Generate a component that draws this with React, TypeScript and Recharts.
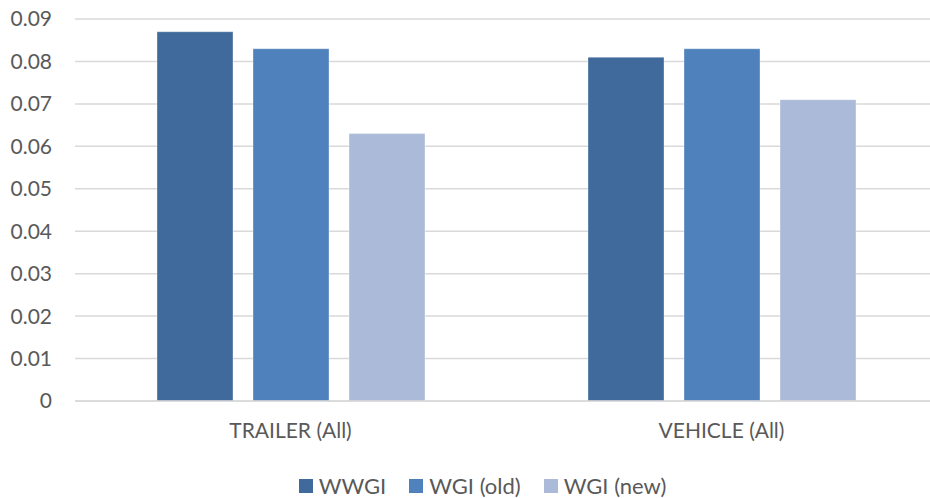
import React from 'react';
import { BarChart, Bar, XAxis, YAxis, CartesianGrid, Legend } from 'recharts';

const categories = ['TRAILER (All)', 'VEHICLE (All)'];
const wwgi = [0.087, 0.081];
const wgiOld = [0.083, 0.083];
const wgiNew = [0.063, 0.071];
const yTicks = [0, 0.01, 0.02, 0.03, 0.04, 0.05, 0.06, 0.07, 0.08, 0.09];

const series = [
  { key: 'wwgi', name: 'WWGI', color: '#3f6a9b' },
  { key: 'wgiOld', name: 'WGI (old)', color: '#4f81bd' },
  { key: 'wgiNew', name: 'WGI (new)', color: '#aabad8' },
];

const data = categories.map((name, i) => ({
  name,
  wwgi: wwgi[i],
  wgiOld: wgiOld[i],
  wgiNew: wgiNew[i],
}));

const FONT = 'Lato, "Noto Sans", sans-serif';
const TEXT = '#595959';

const formatTick = (v: number) => (v === 0 ? '0' : v.toFixed(2));

const renderLegend = () => (
  <div style={{ display: 'flex', justifyContent: 'center', alignItems: 'center', height: 24, paddingLeft: 28 }}>
    {series.map((s, i) => (
      <div key={s.key} style={{ display: 'flex', alignItems: 'center', marginLeft: i === 0 ? 0 : 23 }}>
        <span style={{ width: 14, height: 14, background: s.color, display: 'inline-block', marginRight: 6 }} />
        <span style={{ fontFamily: FONT, fontSize: 22, color: TEXT, lineHeight: '24px' }}>{s.name}</span>
      </div>
    ))}
  </div>
);

export default function App() {
  return (
    <div style={{ position: 'fixed', left: 0, top: 0, width: 930, height: 498, overflow: 'hidden', background: '#fff' }}>
      <BarChart
        width={945}
        height={498}
        data={data}
        margin={{ top: 19, right: 8, left: 0, bottom: 0 }}
        barSize={76}
        barGap={20}
      >
        <CartesianGrid vertical={false} stroke="#d9d9d9" strokeWidth={1.5} />
        <XAxis
          dataKey="name"
          height={73}
          tickLine={false}
          tickSize={0}
          tickMargin={22}
          axisLine={{ stroke: '#d9d9d9', strokeWidth: 1.5 }}
          tick={{ fill: TEXT, fontSize: 21, fontFamily: FONT }}
        />
        <YAxis
          width={75}
          domain={[0, 0.09]}
          ticks={yTicks}
          tickFormatter={formatTick}
          axisLine={false}
          tickLine={false}
          tickSize={0}
          tickMargin={23}
          tick={{ fill: TEXT, fontSize: 21, fontFamily: FONT }}
          interval={0}
        />
        <Legend verticalAlign="bottom" content={renderLegend} />
        {series.map((s) => (
          <Bar
            key={s.key}
            dataKey={s.key}
            name={s.name}
            fill={s.color}
            stroke="rgba(255,255,255,0.35)"
            strokeWidth={1}
            isAnimationActive={false}
          />
        ))}
      </BarChart>
    </div>
  );
}
